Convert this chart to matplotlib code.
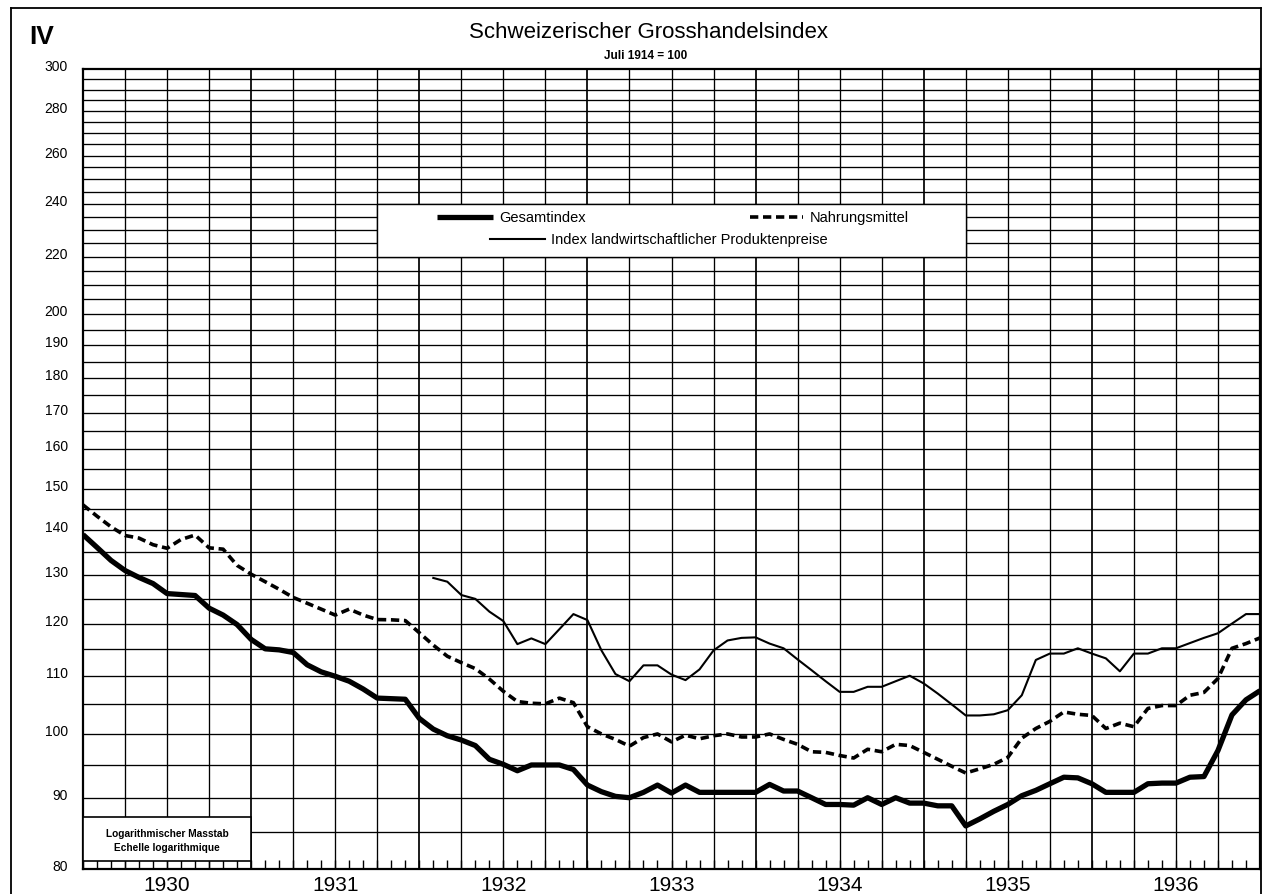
import matplotlib
matplotlib.use('Agg')
import matplotlib.pyplot as plt
import matplotlib.transforms as mtransforms
from matplotlib.patches import Rectangle
from matplotlib.lines import Line2D
from matplotlib.ticker import NullLocator
import numpy as np

plt.rcParams['font.family'] = ['Liberation Sans', 'DejaVu Sans']

# ---------------- data (monthly, index 0 = Jan 1930) ----------------
years = [1930, 1931, 1932, 1933, 1934, 1935, 1936]

gesamt = [139.0, 136.1, 133.2, 131.0, 129.5, 128.2, 126.1, 125.9, 125.7, 123.1,
          121.7, 119.8, 116.9, 115.1, 114.9, 114.4, 112.1, 110.8, 110.0, 109.1,
          107.7, 106.1, 106.0, 105.9, 102.6, 100.8, 99.7, 99.0, 98.1, 95.9,
          95.1, 94.1, 95.0, 95.0, 95.0, 94.3, 91.9, 90.9, 90.2, 90.0,
          90.8, 91.9, 90.7, 91.9, 90.8, 90.8, 90.8, 90.8, 90.8, 92.0,
          91.0, 91.0, 90.0, 89.0, 89.0, 88.9, 90.0, 89.0, 90.0, 89.2,
          89.2, 88.8, 88.8, 85.9, 86.9, 88.0, 89.0, 90.3, 91.1, 92.1,
          93.1, 93.0, 92.1, 90.8, 90.8, 90.8, 92.1, 92.2, 92.2, 93.1,
          93.2, 97.3, 103.2, 105.8, 107.4]

nahrung = [146.0, 143.3, 140.8, 138.8, 138.2, 136.7, 135.9, 137.9, 138.9, 136.0,
           135.7, 132.1, 130.2, 128.6, 127.0, 125.3, 124.1, 122.9, 121.7, 122.9,
           121.7, 120.8, 120.75, 120.6, 118.2, 115.8, 113.7, 112.5, 111.4, 109.5,
           107.3, 105.5, 105.2, 105.1, 106.1, 105.3, 101.2, 100.0, 99.1, 98.0,
           99.4, 100.0, 98.7, 99.8, 99.2, 99.7, 100.0, 99.5, 99.5, 100.0,
           99.1, 98.3, 97.1, 97.0, 96.5, 96.1, 97.5, 97.1, 98.3, 98.1,
           97.0, 95.9, 94.8, 93.75, 94.4, 95.1, 96.2, 99.3, 100.9, 102.1,
           103.7, 103.3, 103.1, 100.9, 101.8, 101.2, 104.3, 104.8, 104.8, 106.6,
           107.1, 109.6, 115.2, 116.1, 117.2]

landw_start = 25  # Feb 1932
landw = [129.4, 128.6, 125.8, 125.0, 122.4, 120.5, 116.0, 117.1, 116.0, 118.9,
         121.9, 120.7, 114.8, 110.4, 109.1, 112.0, 112.0, 110.3, 109.3, 111.25,
         114.8, 116.7, 117.2, 117.3, 116.1, 115.2, 113.1, 111.1, 109.1, 107.2,
         107.2, 108.1, 108.1, 109.1, 110.1, 108.7, 106.9, 105.0, 103.1, 103.1,
         103.3, 104.0, 106.6, 113.0, 114.2, 114.2, 115.2, 114.2, 113.3, 110.9,
         114.2, 114.2, 115.2, 115.2, 116.2, 117.2, 118.1, 120.0, 121.9, 121.9]

y_labels = [300, 280, 260, 240, 220, 200, 190, 180, 170, 160, 150, 140,
            130, 120, 110, 100, 90, 80]

series_names = ['Gesamtindex', 'Nahrungsmittel',
                'Index landwirtschaftlicher Produktenpreise']
title = 'Schweizerischer Grosshandelsindex'
subtitle = 'Juli 1914 = 100'
scale_note = ['Logarithmischer Masstab', 'Echelle logarithmique']

# ---------------- figure ----------------
W, H = 1270, 895
fig = plt.figure(figsize=(W / 100, H / 100), dpi=100)
fig.patch.set_facecolor('white')


def fx(x):
    return x / W


def fy(y):
    return 1 - y / H


ax = fig.add_axes([fx(83), 25 / H, (1260 - 83) / W, 800 / H])
ax.set_yscale('log')
n_months = len(gesamt)
ax.set_xlim(0, n_months - 1)
ax.set_ylim(80, 300)

# grid
for v in range(85, 300, 5):
    ax.axhline(v, color='black', lw=0.95, zorder=1)
for m in range(3, n_months - 1, 3):
    ax.axvline(m, color='black', lw=1.25 if m % 12 == 0 else 0.95, zorder=1)

# ticks
ax.set_xticks([])
ax.set_xticks(np.arange(n_months), minor=True)
ax.tick_params(axis='x', which='minor', direction='in', length=6.5,
               width=1.0, color='black', bottom=True, top=False,
               labelbottom=False)
ax.set_yticks([])
ax.yaxis.set_minor_locator(NullLocator())
for s in ax.spines.values():
    s.set_linewidth(1.6)
    s.set_color('black')

# y labels
blend_y = mtransforms.blended_transform_factory(ax.transAxes, ax.transData)
lab_tr = mtransforms.offset_copy(blend_y, fig=fig, x=-15, y=3, units='dots')
for v in y_labels:
    ax.text(0, v, str(v), transform=lab_tr, ha='right', va='center',
            fontsize=10, clip_on=False)

# year labels
blend_x = mtransforms.blended_transform_factory(ax.transData, ax.transAxes)
for i, yr in enumerate(years):
    ax.text(6 + 12 * i, -15.5 / 800, str(yr), transform=blend_x,
            ha='center', va='center', fontsize=15, clip_on=False)

# data lines
mx = np.arange(n_months)
ax.plot(mx, gesamt, color='black', lw=3.8, solid_joinstyle='round',
        solid_capstyle='butt', zorder=5)
ax.plot(mx, nahrung, color='black', lw=2.6, linestyle=(0, (2.3, 1.3)),
        dash_joinstyle='round', dash_capstyle='butt', zorder=5)
ax.plot(np.arange(landw_start, landw_start + len(landw)), landw,
        color='black', lw=1.5, solid_joinstyle='round', zorder=5)

# legend box (aligned with the grid)
ax.add_patch(Rectangle((21, 220), 42, 20, facecolor='white',
                       edgecolor='black', lw=1.0, zorder=3))
fig.add_artist(Line2D([fx(437), fx(493)], [fy(218), fy(218)],
                      color='black', lw=3.8, solid_capstyle='butt'))
fig.text(fx(499), fy(218), series_names[0], ha='left', va='center',
         fontsize=10.5)
fig.add_artist(Line2D([fx(750), fx(803)], [fy(218), fy(218)],
                      color='black', lw=2.6, linestyle=(0, (2.3, 1.3)),
                      dash_capstyle='butt'))
fig.text(fx(810), fy(218), series_names[1], ha='left', va='center',
         fontsize=10.5)
fig.add_artist(Line2D([fx(490), fx(545)], [fy(240), fy(240)],
                      color='black', lw=1.5))
fig.text(fx(551), fy(240), series_names[2], ha='left', va='center',
         fontsize=10.5)

# logarithmic scale note box
ax.add_patch(Rectangle((0, 8 / 800), 12, 44 / 800, transform=blend_x,
                       facecolor='white', edgecolor='black', lw=1.2,
                       zorder=4, clip_on=False))
fig.text(fx(167), fy(834), scale_note[0], ha='center', va='center',
         fontsize=7.3, fontweight='bold')
fig.text(fx(167), fy(848), scale_note[1], ha='center', va='center',
         fontsize=7.3, fontweight='bold')

# titles
fig.text(fx(648), fy(33), title, ha='center', va='center', fontsize=16)
fig.text(fx(646), fy(56), subtitle, ha='center', va='center', fontsize=8.5,
         fontweight='bold')
fig.text(fx(29), fy(37), 'IV', ha='left', va='center', fontsize=19,
         fontweight='bold')

# outer frame
fig.add_artist(Line2D([fx(11), fx(11)], [0, fy(9)], color='black', lw=1.3))
fig.add_artist(Line2D([fx(11), fx(1261)], [fy(9), fy(9)], color='black', lw=1.3))
fig.add_artist(Line2D([fx(1260.5), fx(1260.5)], [0, fy(9)], color='black', lw=1.3))

fig.savefig('out.png', dpi=100, facecolor='white')
